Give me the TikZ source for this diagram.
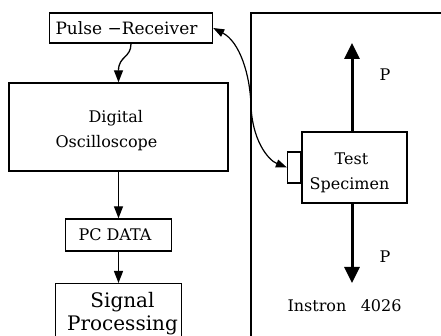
\documentclass[tikz,border=0pt]{standalone}
\usepackage{fontspec}
\setmainfont{DejaVu Serif}
\usetikzlibrary{arrows.meta}
\begin{document}
\begin{tikzpicture}[x=1pt,y=-1pt,
  box/.style={draw,line width=1.4pt,inner sep=0pt,align=center,font=\fontsize{16}{25}\selectfont},
  conn/.style={line width=1.3pt,-{Triangle[width=9pt,length=12pt]}},
  biconn/.style={line width=1.2pt,{Triangle[width=8pt,length=11pt]}-{Triangle[width=8pt,length=11pt]}},
  load/.style={line width=3pt,-{Triangle[width=15pt,length=16pt]}},
  lbl/.style={inner sep=0pt,font=\fontsize{16}{19}\selectfont}]
\useasboundingbox (0,0) rectangle (441,336);
\clip (0,0) rectangle (441,336);
\fill[white] (0,0) rectangle (441,336);
% Instron frame
\draw[line width=1.3pt] (251,345) -- (251,13) -- (450,13);
% boxes
\node[box,minimum width=163pt,minimum height=30pt,font=\fontsize{17}{20}\selectfont] (pr) at (131,28) {Pulse −Receiver\hspace*{9pt}};
\node[box,align=left,minimum width=219pt,minimum height=88pt,text height=46pt,text depth=4pt] (osc) at (118.5,127) {\hspace*{33pt}Digital\\Oscilloscope\hspace*{24pt}};
\node[box,minimum width=106pt,minimum height=32pt] (pc) at (118.5,235) {PC DATA\hspace*{7pt}};
\node[box,anchor=north,minimum width=126pt,inner ysep=9pt,font=\fontsize{20}{23}\selectfont] (sig) at (118.5,283) {\hspace*{8pt}Signal\\\hspace*{8pt}Processing};
\node[box,align=left,minimum width=105pt,minimum height=71pt,text height=49pt,text depth=4pt] (ts) at (354.5,167.5) {\hspace*{25pt}Test\\Specimen\hspace*{10pt}};
\node[draw,line width=1.4pt,inner sep=0pt,minimum width=13pt,minimum height=31pt,anchor=east] (sen) at (ts.west) {};
% labels
\node[lbl] (p1) at (385,75) {P};
\node[lbl] (p2) at (385,257) {P};
\node[lbl] (inst) at (344.5,306) {Instron\hspace{0.9em}4026};
% load arrows
\coordinate (uptip) at (352,43);
\coordinate (dntip) at (352,283);
\draw[load] (ts.north -| uptip) -- (uptip);
\draw[load] (ts.south -| dntip) -- (dntip);
% connectors
\draw[conn] (pr.south) .. controls (131,58) and (118.5,56) .. (osc.north);
\draw[conn] (osc.south) -- (pc.north);
\draw[conn] (pc.south) -- (sig.north);
\draw[biconn] (pr.east) .. controls (240,42) and (250,75) .. (251,105) .. controls (252,140) and (268,160) .. (sen.west);
\end{tikzpicture}
\end{document}
